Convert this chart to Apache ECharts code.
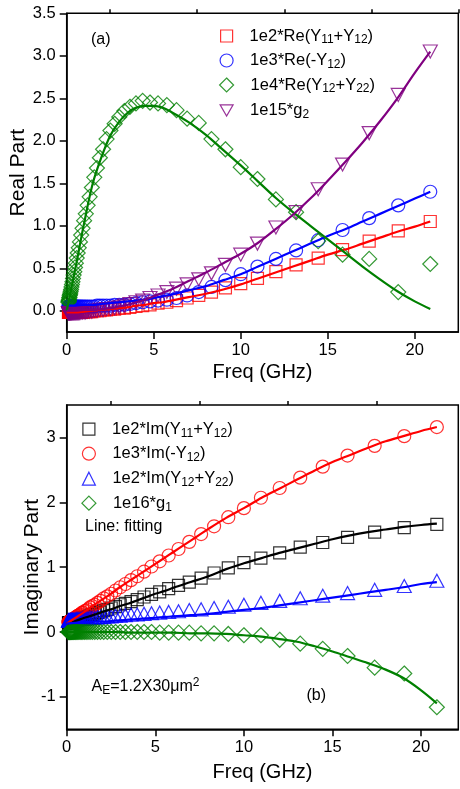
<!DOCTYPE html>
<html><head><meta charset="utf-8">
<script src="https://cdn.jsdelivr.net/npm/echarts@6/dist/echarts.min.js"></script>
<style>html,body{margin:0;padding:0;background:#fff}#c{width:460px;height:789px}</style>
</head><body><div id="c"></div>
<script>
// ---- data ----
const freq = [0.100,0.110,0.120,0.132,0.145,0.158,0.174,0.191,0.209,0.229,
  0.251,0.275,0.302,0.331,0.363,0.398,0.437,0.479,0.525,0.575,
  0.631,0.692,0.759,0.832,0.912,1.000,1.096,1.202,1.318,1.445,
  1.585,1.738,1.905,2.089,2.291,2.512,2.754,3.020,3.311,3.631,
  3.981,4.365,4.786,5.248,5.754,6.310,6.918,7.586,8.318,9.120,
  10.00,10.96,12.02,13.18,14.45,15.85,17.38,19.05,20.89];
// panel (a)
const reA = [-0.02,-0.02,-0.02,-0.02,-0.02,-0.02,-0.02,-0.02,-0.02,-0.02,
  -0.02,-0.02,-0.02,-0.02,-0.02,-0.02,-0.02,-0.02,-0.02,-0.02,
  -0.02,-0.02,-0.02,-0.02,-0.02,-0.01,-0.01,-0.01,-0.01,-0.01,
  0.00,0.00,0.00,0.01,0.01,0.02,0.02,0.03,0.03,0.04,
  0.05,0.06,0.07,0.09,0.10,0.12,0.15,0.18,0.22,0.27,
  0.32,0.38,0.46,0.54,0.62,0.72,0.82,0.94,1.05];
const blA = [0.05,0.05,0.05,0.05,0.05,0.05,0.05,0.05,0.05,0.05,
  0.05,0.05,0.05,0.05,0.05,0.05,0.05,0.05,0.05,0.05,
  0.05,0.05,0.05,0.05,0.05,0.05,0.05,0.05,0.05,0.05,
  0.05,0.06,0.06,0.06,0.06,0.06,0.07,0.07,0.07,0.08,
  0.09,0.10,0.11,0.12,0.13,0.15,0.18,0.22,0.28,0.36,
  0.43,0.52,0.61,0.71,0.83,0.95,1.09,1.24,1.40];
const grA = [0.10,0.11,0.12,0.13,0.15,0.16,0.18,0.19,0.21,0.23,
  0.25,0.28,0.31,0.34,0.38,0.42,0.46,0.51,0.56,0.62,
  0.68,0.74,0.81,0.89,0.97,1.06,1.14,1.24,1.34,1.45,
  1.57,1.68,1.80,1.90,2.02,2.12,2.20,2.28,2.35,2.40,
  2.44,2.47,2.45,2.44,2.42,2.36,2.26,2.21,2.02,1.90,
  1.69,1.55,1.31,1.16,0.82,0.66,0.61,0.22,0.55];
const puA = [-0.03,-0.03,-0.03,-0.03,-0.03,-0.03,-0.03,-0.03,-0.03,-0.03,
  -0.03,-0.03,-0.03,-0.03,-0.03,-0.03,-0.03,-0.03,-0.03,-0.03,
  -0.03,-0.03,-0.03,-0.02,-0.02,-0.02,-0.02,-0.01,-0.01,-0.01,
  0.00,0.00,0.01,0.01,0.02,0.02,0.03,0.04,0.06,0.08,
  0.10,0.12,0.15,0.18,0.22,0.26,0.31,0.37,0.44,0.54,
  0.66,0.79,0.98,1.16,1.43,1.72,2.09,2.54,3.05];
// panel (b)
const bkB = [0.14,0.14,0.14,0.14,0.14,0.14,0.14,0.14,0.14,0.14,
  0.15,0.15,0.15,0.16,0.16,0.16,0.17,0.17,0.18,0.18,
  0.19,0.19,0.20,0.21,0.22,0.22,0.23,0.24,0.26,0.27,
  0.28,0.30,0.31,0.33,0.35,0.37,0.39,0.42,0.44,0.47,
  0.50,0.54,0.58,0.62,0.67,0.72,0.77,0.83,0.91,0.99,
  1.07,1.14,1.22,1.31,1.38,1.46,1.54,1.61,1.66];
const reB = [0.15,0.15,0.15,0.15,0.16,0.16,0.16,0.17,0.17,0.17,
  0.17,0.18,0.18,0.19,0.20,0.20,0.21,0.22,0.23,0.24,
  0.25,0.26,0.27,0.29,0.30,0.32,0.33,0.35,0.38,0.40,
  0.42,0.45,0.48,0.52,0.55,0.59,0.64,0.69,0.74,0.80,
  0.86,0.93,1.01,1.09,1.18,1.28,1.39,1.51,1.63,1.77,
  1.91,2.07,2.22,2.38,2.55,2.72,2.87,3.02,3.16];
const blB = [0.18,0.18,0.18,0.18,0.18,0.18,0.18,0.18,0.18,0.18,
  0.19,0.19,0.19,0.19,0.19,0.19,0.19,0.19,0.20,0.20,
  0.20,0.20,0.20,0.20,0.21,0.21,0.21,0.21,0.22,0.22,
  0.22,0.23,0.23,0.23,0.24,0.24,0.25,0.25,0.26,0.27,
  0.27,0.28,0.29,0.30,0.31,0.32,0.34,0.35,0.37,0.39,
  0.42,0.45,0.48,0.52,0.56,0.60,0.65,0.71,0.79];
const grB = [0,0,0,0,0,0,0,0,0,0,
  0,0,0,0,0,0,0,0,0,0,
  0,0,0,0,0,0,0,0,0,0,
  0,0,0,0,0,0,0,0,0,0,
  0.00,0.00,0.00,-0.01,-0.01,-0.01,-0.01,-0.02,-0.02,-0.03,
  -0.05,-0.05,-0.12,-0.18,-0.26,-0.37,-0.55,-0.64,-1.16];
// fitting curves
const fitF = [0,0.5,1,1.5,2,2.5,3,3.5,4,4.5,5,5.5,6,7,8,9,10,11,12,13,14,15,16,17,18,19,20,20.89];
const fitReA = [-0.02,-0.02,-0.01,0.00,0.01,0.02,0.03,0.04,0.06,0.07,0.09,0.10,0.12,0.16,0.20,0.25,0.31,0.38,0.45,0.52,0.59,0.66,0.72,0.79,0.86,0.93,0.99,1.05];
const fitBlA = [0.06,0.06,0.07,0.07,0.08,0.09,0.10,0.11,0.12,0.13,0.15,0.17,0.19,0.24,0.29,0.36,0.43,0.52,0.61,0.70,0.79,0.88,0.96,1.05,1.14,1.23,1.32,1.40];
const fitGrA = [0,0.50,1.03,1.50,1.81,2.06,2.22,2.33,2.39,2.41,2.41,2.39,2.34,2.22,2.07,1.89,1.71,1.52,1.33,1.16,1.00,0.84,0.68,0.52,0.37,0.23,0.11,0.02];
const fitPuA = [0.00,0.00,0.01,0.01,0.02,0.03,0.05,0.07,0.10,0.13,0.17,0.21,0.25,0.35,0.45,0.56,0.67,0.80,0.96,1.13,1.32,1.53,1.75,1.98,2.23,2.50,2.80,3.05];
const fitBkB = [0.13,0.17,0.22,0.26,0.31,0.35,0.40,0.44,0.49,0.54,0.59,0.63,0.68,0.77,0.86,0.97,1.06,1.14,1.22,1.29,1.36,1.43,1.49,1.54,1.58,1.62,1.65,1.67];
const fitReB = [0.13,0.22,0.31,0.41,0.50,0.59,0.69,0.78,0.87,0.96,1.05,1.14,1.23,1.41,1.59,1.76,1.91,2.07,2.21,2.35,2.49,2.62,2.73,2.84,2.94,3.02,3.10,3.16];
const fitBlB = [0.13,0.14,0.15,0.16,0.16,0.17,0.18,0.19,0.20,0.21,0.22,0.23,0.24,0.26,0.28,0.31,0.34,0.37,0.41,0.45,0.49,0.53,0.57,0.61,0.65,0.69,0.74,0.77];
const fitGrB = [0,0,0,0,0,0,0,-0.01,-0.01,-0.01,-0.01,-0.01,-0.01,-0.02,-0.02,-0.03,-0.05,-0.07,-0.11,-0.15,-0.22,-0.30,-0.39,-0.48,-0.58,-0.71,-0.90,-1.10];
// ticks
const xTicks = [0,5,10,15,20];
const xMinorA = [2.5,7.5,12.5,17.5,22.5];
const xMinorB = [2.5,7.5,12.5,17.5];
const yTicksA = [0,0.5,1,1.5,2,2.5,3,3.5];
const yTicksB = [-1,0,1,2,3];
// legend labels
const labelsA = ['{n|1e2*Re(Y}{s|11}{n|+Y}{s|12}{n|)}','{n|1e3*Re(-Y}{s|12}{n|)}','{n|1e4*Re(Y}{s|12}{n|+Y}{s|22}{n|)}','{n|1e15*g}{s|2}'];
const labelsB = ['{n|1e2*Im(Y}{s|11}{n|+Y}{s|12}{n|)}','{n|1e3*Im(-Y}{s|12}{n|)}','{n|1e2*Im(Y}{s|12}{n|+Y}{s|22}{n|)}','{n|1e16*g}{s|1}'];

// ---- styling / layout ----
const FONT = "'Liberation Sans', Arial, Helvetica, sans-serif";
const CLEAR = 'rgba(0,0,0,0)';
const TRI_DOWN = 'path://M0,0L20,0L10,17.32Z';
const pairs = (xs, ys) => xs.map((x, i) => [x, ys[i]]);
const defs = [
  {name:'a1', g:0, data:reA, fit:fitReA, color:'#ff0000', symbol:'rect', size:12, ls:12, label:labelsA[0]},
  {name:'a2', g:0, data:blA, fit:fitBlA, color:'#0000ff', symbol:'circle', size:13, ls:13, label:labelsA[1]},
  {name:'a3', g:0, data:grA, fit:fitGrA, color:'#008000', symbol:'diamond', size:15, ls:14, label:labelsA[2]},
  {name:'a4', g:0, data:puA, fit:fitPuA, color:'#800080', symbol:TRI_DOWN, size:[14,13], ls:13, label:labelsA[3]},
  {name:'b1', g:1, data:bkB, fit:fitBkB, color:'#000000', symbol:'rect', size:12, ls:12, label:labelsB[0]},
  {name:'b2', g:1, data:reB, fit:fitReB, color:'#ff0000', symbol:'circle', size:13, ls:13, label:labelsB[1]},
  {name:'b3', g:1, data:blB, fit:fitBlB, color:'#0000ff', symbol:'triangle', size:[14,13], ls:13, label:labelsB[2]},
  {name:'b4', g:1, data:grB, fit:fitGrB, color:'#008000', symbol:'diamond', size:15, ls:14, label:labelsB[3]}
];
const RICH = {
  n:{fontSize:16.5, fontFamily:FONT, color:'#000', lineHeight:20},
  s:{fontSize:12, fontFamily:FONT, color:'#000', lineHeight:12, verticalAlign:'bottom'}
};
const legPos = [{x:226, y:33.5, dy:25}, {x:88.3, y:426.7, dy:25}];
const rowIndex = [0,1,2,3,0,1,2,3];

const AX = {color:'#000', width:1.5};
function xMain(g, max, gap) {
  return {gridIndex:g, type:'value', min:0, max:max, interval:5,
    axisLine:{show:true, onZero:false, lineStyle:AX},
    axisTick:{show:true, length:7, customValues:xTicks, lineStyle:AX},
    axisLabel:{show:true, customValues:xTicks, fontSize:16.5, fontFamily:FONT, color:'#000', margin:10,
      formatter:v => (Math.abs(v % 5) < 1e-6 ? String(v) : '')},
    splitLine:{show:false},
    name:'Freq (GHz)', nameLocation:'middle', nameGap:gap, nameMoveOverlap:false,
    nameTextStyle:{fontSize:20, fontFamily:FONT, color:'#000'}};
}
function xMinor(g, max, ticks) {
  return {gridIndex:g, type:'value', min:0, max:max, interval:2.5,
    axisLine:{show:false, onZero:false},
    axisTick:{show:true, length:4, customValues:ticks, lineStyle:AX},
    axisLabel:{show:false}, splitLine:{show:false}};
}
function yAx(g, min, max, ticks, name, gap, fmt) {
  return {gridIndex:g, type:'value', min:min, max:max,
    axisLine:{show:true, onZero:false, lineStyle:AX},
    axisTick:{show:true, length:7, customValues:ticks, lineStyle:AX},
    axisLabel:{show:true, customValues:ticks, fontSize:16.5, fontFamily:FONT, color:'#000', margin:11, formatter:fmt},
    splitLine:{show:false},
    name:name, nameLocation:'middle', nameGap:gap, nameMoveOverlap:false,
    nameTextStyle:{fontSize:21, fontFamily:FONT, color:'#000'}};
}

const series = [];
defs.forEach(d => {
  series.push({type:'scatter', name:d.name, xAxisIndex:d.g*2, yAxisIndex:d.g,
    data:pairs(freq, d.data), symbol:d.symbol, symbolSize:d.size, silent:true, z:2,
    itemStyle:{color:CLEAR, borderColor:d.color, borderWidth:1.2}, emphasis:{disabled:true}});
  series.push({type:'line', name:d.name + 'fit', xAxisIndex:d.g*2, yAxisIndex:d.g,
    data:pairs(fitF, d.fit), symbol:'none', smooth:0.35, silent:true, z:3,
    lineStyle:{color:d.color, width:2.2}, emphasis:{disabled:true}});
});

const legend = defs.map((d, i) => {
  const p = legPos[d.g];
  const cy = p.y + p.dy * rowIndex[i];
  return {show:true, orient:'vertical', left:p.x - d.ls/2, top:cy - d.ls/2, padding:0,
    itemWidth:d.ls, itemHeight:d.ls, selectedMode:false,
    data:[{name:d.name, icon:d.symbol, itemStyle:{color:CLEAR, borderColor:d.color, borderWidth:1.2}}],
    formatter:() => d.label,
    textStyle:{padding:[0,0,0,12], rich:RICH}};
});

const option = {
  animation:false,
  backgroundColor:'#fff',
  grid:[
    {left:66.7, top:13.3, right:1.7, height:318.7, show:true, borderColor:'#000', borderWidth:1.5, backgroundColor:CLEAR, containLabel:false, outerBoundsMode:'none'},
    {left:66.7, top:405, right:1.7, height:324.3, show:true, borderColor:'#000', borderWidth:1.5, backgroundColor:CLEAR, containLabel:false, outerBoundsMode:'none'}
  ],
  xAxis:[xMain(0, 22.5, 30), xMinor(0, 22.5, xMinorA), xMain(1, 22.1, 33), xMinor(1, 22.1, xMinorB)],
  yAxis:[
    yAx(0, -0.25, 3.5, yTicksA, 'Real Part', 38, v => v.toFixed(1)),
    yAx(1, -1.5, 3.5, yTicksB, 'Imaginary Part', 24, v => String(v))
  ],
  legend:legend,
  series:series,
  graphic:[
    {type:'text', x:91, y:39.5, silent:true, style:{text:'(a)', font:'16px ' + FONT, fill:'#000', verticalAlign:'middle'}},
    {type:'text', x:306.5, y:696, silent:true, style:{text:'(b)', font:'16px ' + FONT, fill:'#000', verticalAlign:'middle'}},
    {type:'text', x:85, y:527, silent:true, style:{text:'Line: fitting', font:'16px ' + FONT, fill:'#000', verticalAlign:'middle'}},
    {type:'text', x:91.5, y:687, silent:true, style:{text:'{n|A}{b|E}{n|=1.2X30μm}{p|2}', verticalAlign:'middle',
      rich:{n:{fontSize:16, fontFamily:FONT, fill:'#000', color:'#000', lineHeight:20},
            b:{fontSize:12, fontFamily:FONT, fill:'#000', color:'#000', lineHeight:12, verticalAlign:'bottom'},
            p:{fontSize:12, fontFamily:FONT, fill:'#000', color:'#000', lineHeight:12, verticalAlign:'top'}}}}
  ]
};
const chart = echarts.init(document.getElementById('c'), null, {renderer:'canvas'});
chart.setOption(option);
</script></body></html>
